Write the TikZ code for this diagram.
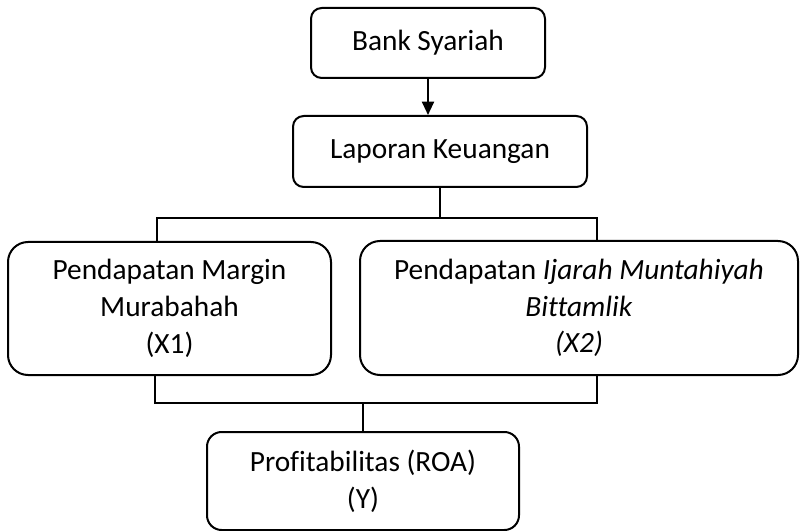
\documentclass[tikz,border=0pt]{standalone}
\usepackage{fontspec}
\setmainfont{Carlito}[Ligatures=NoCommon]
\usetikzlibrary{arrows.meta,calc,positioning}

\begin{document}
\begin{tikzpicture}[x=0.75pt,y=-0.75pt,line width=1.5pt,>={Triangle[width=9pt,length=10pt]},
    every node/.style={font=\fontsize{22}{27.5}\selectfont}]
  \tikzset{blk/.style={draw,align=center,inner sep=2pt,line width=1.5pt},
           varbox/.style={blk,rounded corners=15pt}}
  \useasboundingbox (0,0) rectangle (800,531);
  \node[blk,rounded corners=8pt,minimum width=175.5pt,minimum height=52.5pt] (bank) at (428,43) {Bank Syariah};
  \node[blk,rounded corners=8pt,minimum width=220.5pt,minimum height=53.25pt] (lap) at (440,151.5) {Laporan Keuangan};
  \node[varbox,minimum width=242.25pt,minimum height=99.75pt] (xone) at (169.5,308.5)
       {Pendapatan Margin\\Murabahah\\(X1)};
  \node[varbox,minimum width=328.5pt,minimum height=100.5pt] (xtwo) at (579,308)
       {Pendapatan \textit{Ijarah Muntahiyah}\\\textit{Bittamlik}\\\textit{(X2)}};
  \node[blk,rounded corners=11pt,minimum width=234pt,minimum height=73.5pt] (roa) at (363,481)
       {Profitabilitas (ROA)\\(Y)};
  % percabangan atas
  \coordinate (ta) at (157,218);
  \coordinate (tb) at (597,218);
  \draw[->] (bank.south) -- (bank.south |- lap.north);
  \draw (lap.south) -- (lap.south |- ta);
  \draw (xone.north -| ta) -- (ta) -- (tb) -- (xtwo.north -| tb);
  % percabangan bawah
  \coordinate (ba) at (155,403);
  \coordinate (bb) at (597,403);
  \draw (xone.south -| ba) -- (ba) -- (bb) -- (xtwo.south -| bb);
  \draw (roa.north) -- (roa.north |- ba);
\end{tikzpicture}
\end{document}
